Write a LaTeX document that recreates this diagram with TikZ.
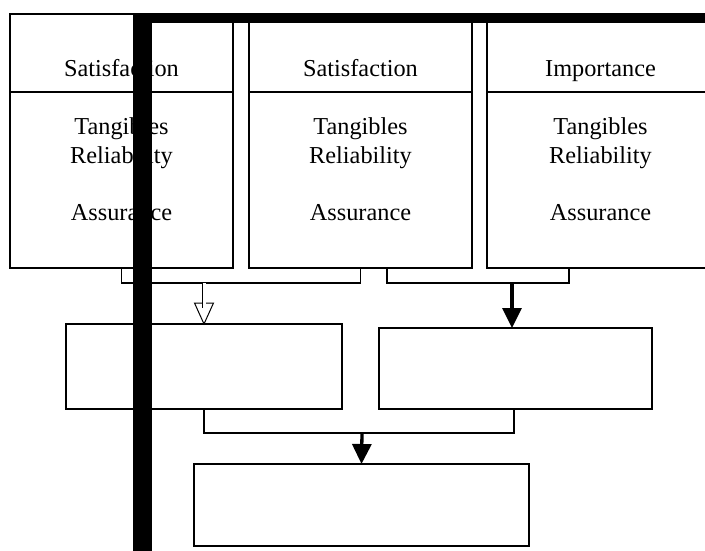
\documentclass[tikz,border=0pt]{standalone}
\usepackage{fontspec}
\setmainfont{Liberation Serif}
\usetikzlibrary{arrows.meta}
\begin{document}
\begin{tikzpicture}[x=1pt,y=-1pt,
  box/.style={draw,line width=1.8pt,inner sep=0pt,outer sep=0pt,anchor=north west},
  lbl/.style={anchor=base,inner sep=0pt,font=\fontsize{24.3}{28}\selectfont},
  conn/.style={line width=1.8pt},
  solidarrow/.style={line width=3.3pt,-{Triangle[width=19pt,length=20pt]}}]
\useasboundingbox (0,0) rectangle (705,551);
\fill[white] (0,0) rectangle (705,551);
% top boxes
\node[box,minimum width=223pt,minimum height=78pt] (h1) at (10,14) {};
\node[box,minimum width=223pt,minimum height=176pt] (b1) at (10,92) {};
\node[box,minimum width=223pt,minimum height=78pt] (h2) at (249,14) {};
\node[box,minimum width=223pt,minimum height=176pt] (b2) at (249,92) {};
\node[box,minimum width=223pt,minimum height=78pt] (h3) at (487,14) {};
\node[box,minimum width=223pt,minimum height=176pt] (b3) at (487,92) {};
% texts
\node[lbl] (t1a) at (121.5,77) {Satisfaction};
\node[lbl] (t1b) at (121.5,135) {Tangibles};
\node[lbl] (t1c) at (121.5,163) {Reliability};
\node[lbl] (t1d) at (121.5,220) {Assurance};
\node[lbl] (t2a) at (360.5,77) {Satisfaction};
\node[lbl] (t2b) at (360.5,135) {Tangibles};
\node[lbl] (t2c) at (360.5,163) {Reliability};
\node[lbl] (t2d) at (360.5,220) {Assurance};
\node[lbl] (t3a) at (600.5,77) {Importance};
\node[lbl] (t3b) at (600.5,135) {Tangibles};
\node[lbl] (t3c) at (600.5,163) {Reliability};
\node[lbl] (t3d) at (600.5,220) {Assurance};
% middle and bottom boxes
\node[box,minimum width=276pt,minimum height=85pt] (ml) at (66,324) {};
\node[box,minimum width=273pt,minimum height=81pt] (mr) at (379,328) {};
\node[box,minimum width=335pt,minimum height=82pt] (bot) at (194,464) {};
% connector coordinates
\coordinate (s1) at (b1.south);
\coordinate (s2) at (b2.south);
\coordinate (s2r) at ([xshift=26.5pt]b2.south);
\coordinate (s3) at ([xshift=-29.5pt]b3.south);
\coordinate (j1) at (204,283);
\coordinate (j2) at (512,283);
\coordinate (j3) at (362,433);
\coordinate (mlb) at (ml.south);
\coordinate (mrb) at ([xshift=-1.5pt]mr.south);
% brackets
\draw[conn] (s1) |- (j1) -| (s2);
\draw[conn] (s2r) |- (j2) -| (s3);
\draw[conn] (mlb) |- (j3) -| (mrb);
% hollow arrow
\coordinate (ha) at (204,308);
\draw[line width=0.9pt,double,double distance=3pt] (j1) -- (ha);
\draw[line width=1pt,fill=white] (194.5,303) -- (213.5,303) -- (ml.north) -- cycle;
\draw[line width=0.9pt,double,double distance=3pt] (204,302) -- (ha);
% solid arrows
\draw[solidarrow] (j2) -- (512,328);
\draw[solidarrow] (j3) -- (bot.north);
% thick black bar
\fill[black] (133,13) rectangle (705,23);
\fill[black] (133,13) rectangle (152,551);
\end{tikzpicture}
\end{document}
